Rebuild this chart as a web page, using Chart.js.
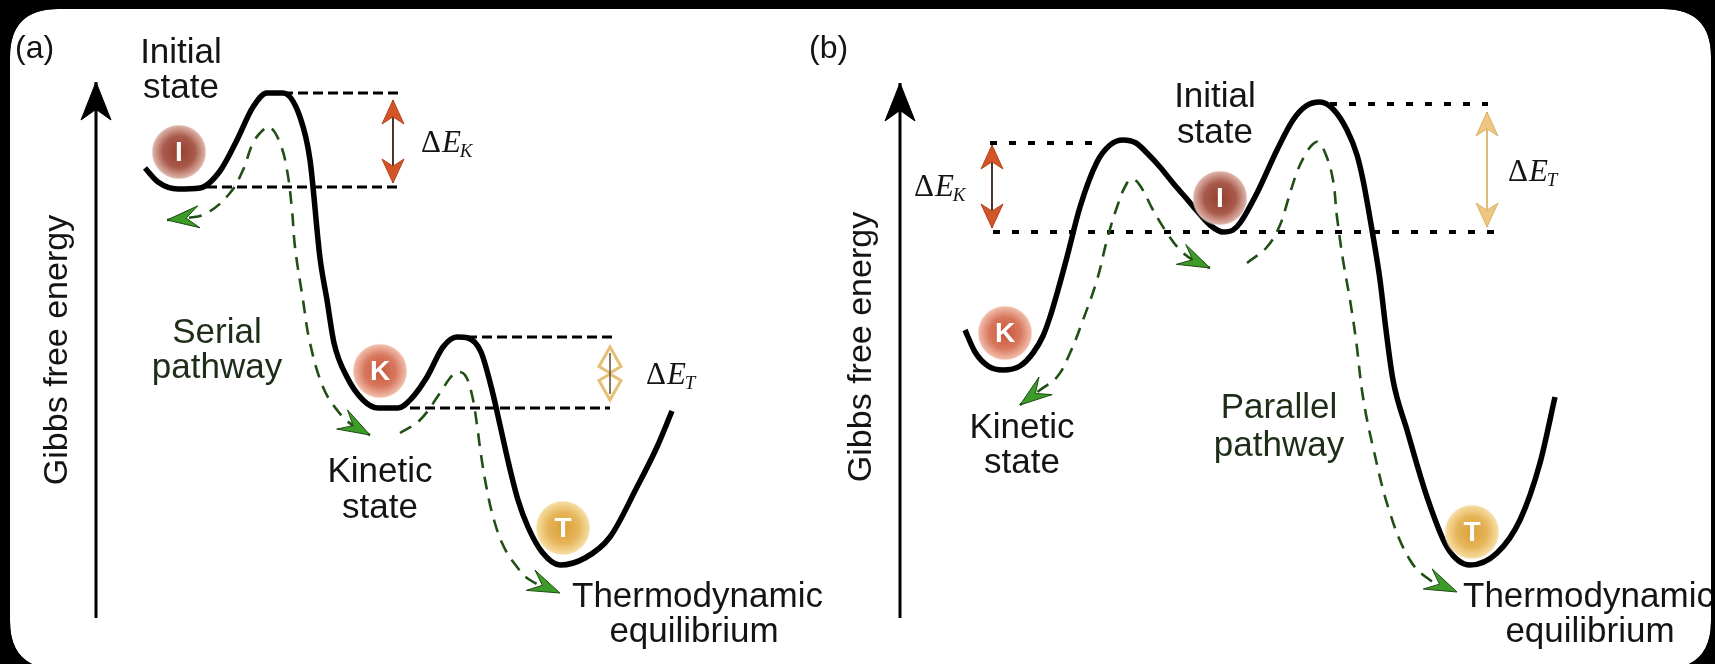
<!DOCTYPE html>
<html>
<head>
	<meta charset="UTF-8">
	<title>Serial and parallel pathways - Gibbs free energy</title>
	<script src="https://cdn.jsdelivr.net/npm/chart.js@4.4.0/dist/chart.umd.min.js"></script>
	<style>
		html, body { margin: 0; padding: 0; background: #000; }
		#landscape { width: 1715px; height: 664px; }
	</style>
</head>
<body>
<div id="landscape"><canvas id="chart_landscape" width="1715" height="664"></canvas></div>
<script>
	// x = reaction coordinate, y = free energy (picture units, grows downwards)

	// (a) serial pathway
	var serialLandscape = [[145,168],[158,182],[178,189],[200,188],[220,171],[237,140],[253,107],[267,93],[283,93],
		[300,117],[310,160],[320,258],[327,300],[334,343],[347,377],[363,400],[378,408],[398,408],[411,399],
		[427,377],[443,347],[457,337],[468,338],[481,352],[492,390],[500,425],[509,465],[518,500],[528,527],
		[542,552],[560,565],[585,558],[610,537],[637,487],[657,447],[672,411]];
	var serialPathIK = [[167,220],[187,218],[207,213],[230,193],[243,170],[253,143],[263,130],[270,127],[280,143],
		[287,170],[292,210],[295,247],[303,300],[310,343],[323,387],[337,410],[352,425],[370,435]];
	var serialPathKT = [[400,433],[420,420],[440,393],[450,378],[457,372],[465,375],[472,395],[477,425],[481,455],
		[487,490],[494,520],[503,545],[514,563],[530,580],[560,593]];
	var serialLevels = [[[283,93],[400,93]], [[207,187],[397,187]], [[467,337],[615,337]], [[410,408],[610,408]]];
	var serialGapK = [[393,100],[393,183]];
	var serialGapT = [[610,347],[610,400]];
	var serialAxis = [[96,618],[96,82]];

	// (b) parallel pathway
	var parallelLandscape = [[965,330],[975,352],[988,366],[1003,370],[1020,366],[1033,353],[1043,336],[1050,317],
		[1058,290],[1067,257],[1080,207],[1097,162],[1110,145],[1123,140],[1136,143],[1147,153],[1160,167],
		[1173,183],[1186,198],[1197,211],[1210,225],[1223,232],[1233,230],[1240,223],[1257,193],[1277,150],
		[1293,120],[1306,106],[1320,102],[1333,109],[1347,130],[1357,155],[1363,180],[1372,230],[1380,280],
		[1386,330],[1393,380],[1407,430],[1427,497],[1447,547],[1470,565],[1497,553],[1520,520],[1540,463],[1555,397]];
	var parallelPathIK = [[1020,405],[1040,390],[1057,377],[1070,353],[1083,320],[1097,280],[1107,240],[1117,207],
		[1127,183],[1133,179],[1141,187],[1153,210],[1167,233],[1180,250],[1193,260],[1210,268]];
	var parallelPathIT = [[1247,263],[1267,247],[1280,225],[1288,200],[1297,172],[1305,155],[1312,145],[1318,142],
		[1326,155],[1333,180],[1337,217],[1343,260],[1350,300],[1356,340],[1363,397],[1373,447],[1390,513],
		[1410,560],[1430,580],[1457,592]];
	var parallelLevels = [[[990,143],[1103,143]], [[993,232],[1495,232]], [[1330,104],[1488,104]]];
	var parallelGapK = [[992,145],[992,228]];
	var parallelGapT = [[1487,112],[1487,227]];
	var parallelAxis = [[900,618],[900,83]];

	// states sitting in the wells
	var stateNames = ['I', 'K', 'T', 'K', 'I', 'T'];
	var statePositions = [[179,152],[380,371],[563,528],[1005,333],[1220,198],[1472,532]];

	// texts
	var captions = [
		{ t: '(a)', x: 15, y: 58, align: 'left' },
		{ t: '(b)', x: 809, y: 58, align: 'left' },
		{ t: 'Initial', x: 181, y: 63 },
		{ t: 'state', x: 181, y: 98 },
		{ t: 'Serial', x: 217, y: 343, green: true },
		{ t: 'pathway', x: 217, y: 378, green: true },
		{ t: 'Kinetic', x: 380, y: 482 },
		{ t: 'state', x: 380, y: 518 },
		{ t: 'Thermodynamic', x: 572, y: 607, align: 'left' },
		{ t: 'equilibrium', x: 694, y: 642 },
		{ t: 'Initial', x: 1215, y: 107 },
		{ t: 'state', x: 1215, y: 143 },
		{ t: 'Kinetic', x: 1022, y: 438 },
		{ t: 'state', x: 1022, y: 473 },
		{ t: 'Parallel', x: 1279, y: 418, green: true },
		{ t: 'pathway', x: 1279, y: 456, green: true },
		{ t: 'Thermodynamic', x: 1463, y: 607, align: 'left' },
		{ t: 'equilibrium', x: 1590, y: 642 },
		{ t: 'Gibbs free energy', x: 67, y: 350, rotate: true },
		{ t: 'Gibbs free energy', x: 871, y: 347, rotate: true }
	];
	var gapLabels = [
		{ sub: 'K', x: 421, y: 152 },
		{ sub: 'T', x: 646, y: 384 },
		{ sub: 'K', x: 914, y: 196 },
		{ sub: 'T', x: 1508, y: 181 }
	];

	var ballColors = {
		I: ['#94412f', '#a95a4b', '#dcb1a7'],
		K: ['#c9583c', '#d8775e', '#f0bba8'],
		T: ['#daa03a', '#e6b65a', '#f6dca2']
	};

	function pts(a) {
		return a.map(function (p) { return { x: p[0], y: p[1] }; });
	}

	// shaded ball images used as point styles
	function ballImage(col) {
		var c = document.createElement('canvas');
		c.width = 58; c.height = 58;
		var g2 = c.getContext('2d');
		var g = g2.createRadialGradient(29, 29, 1, 29, 29, 28);
		g.addColorStop(0, col[0]);
		g.addColorStop(0.55, col[1]);
		g.addColorStop(0.93, col[2]);
		g.addColorStop(1, 'rgba(255,255,255,0)');
		g2.fillStyle = g;
		g2.beginPath();
		g2.arc(29, 29, 28.5, 0, Math.PI * 2);
		g2.fill();
		return c;
	}
	var ballImages = {};
	Object.keys(ballColors).forEach(function (k) { ballImages[k] = ballImage(ballColors[k]); });

	var datasets = [];

	function landscape(a) {
		datasets.push({ data: pts(a), showLine: true, pointRadius: 0, borderColor: '#000', borderWidth: 5.5,
			cubicInterpolationMode: 'monotone', order: 2 });
	}
	function pathway(a, heads) {
		datasets.push({ data: pts(a), showLine: true, pointRadius: 0, borderColor: '#224f16', borderWidth: 2.6,
			borderDash: [13, 9], tension: 0.4, order: 3, heads: heads,
			head: { fill: '#3c9c27', stroke: '#1e4a12', len: 32, half: 11, notch: 0.6 } });
	}
	function level(a, dash, width) {
		datasets.push({ data: pts(a), showLine: true, pointRadius: 0, borderColor: '#000', borderWidth: width,
			borderDash: dash, tension: 0, order: 4 });
	}
	function gap(a, shaft, head) {
		datasets.push({ data: pts(a), showLine: true, pointRadius: 0, borderColor: shaft, borderWidth: 1.8,
			tension: 0, order: 1, heads: 'both', head: head });
	}

	landscape(serialLandscape);
	landscape(parallelLandscape);
	pathway(serialPathIK, 'both');
	pathway(serialPathKT, 'end');
	pathway(parallelPathIK, 'both');
	pathway(parallelPathIT, 'end');
	serialLevels.forEach(function (l) { level(l, [10, 5], 3); });
	parallelLevels.forEach(function (l) { level(l, [7, 12], 4); });

	var redHead = { fill: '#d2552a', stroke: '#b8441c', len: 24, half: 11, notch: 0.7 };
	var goldHead = { fill: '#ecc882', stroke: '#dcb064', len: 24, half: 11, notch: 0.7 };
	var goldDiamond = { fill: '#ffffff', stroke: '#e4bf74', len: 26, half: 11, diamond: true };
	gap(serialGapK, '#3a2010', redHead);
	gap(serialGapT, '#6a5a40', goldDiamond);
	gap(parallelGapK, '#3a2010', redHead);
	gap(parallelGapT, '#dcb36a', goldHead);

	[serialAxis, parallelAxis].forEach(function (a) {
		datasets.push({ data: pts(a), showLine: true, pointRadius: 0, borderColor: '#000', borderWidth: 3,
			tension: 0, order: 4, heads: 'end', head: { fill: '#000', stroke: '#000', len: 38, half: 15, notch: 0.72 } });
	});

	datasets.push({
		data: pts(statePositions), showLine: false, order: 0, pointRadius: 28, pointHoverRadius: 28,
		pointBorderWidth: 0,
		pointStyle: stateNames.map(function (n) { return ballImages[n]; })
	});

	function roundedPath(ctx, x, y, w, h, r) {
		ctx.moveTo(x + r, y);
		ctx.lineTo(x + w - r, y);
		ctx.quadraticCurveTo(x + w, y, x + w, y + r);
		ctx.lineTo(x + w, y + h - r);
		ctx.quadraticCurveTo(x + w, y + h, x + w - r, y + h);
		ctx.lineTo(x + r, y + h);
		ctx.quadraticCurveTo(x, y + h, x, y + h - r);
		ctx.lineTo(x, y + r);
		ctx.quadraticCurveTo(x, y, x + r, y);
		ctx.closePath();
	}

	function drawHead(ctx, tip, from, h) {
		var a = Math.atan2(tip.y - from.y, tip.x - from.x);
		var dx = Math.cos(a), dy = Math.sin(a), nx = -dy, ny = dx;
		var bx = tip.x - dx * h.len, by = tip.y - dy * h.len;
		ctx.beginPath();
		ctx.moveTo(tip.x, tip.y);
		if (h.diamond) {
			// long kite, the two heads meet in the middle of the gap
			var sx = tip.x - dx * h.len * 0.75, sy = tip.y - dy * h.len * 0.75;
			ctx.lineTo(sx + nx * h.half, sy + ny * h.half);
			ctx.lineTo(bx, by);
			ctx.lineTo(sx - nx * h.half, sy - ny * h.half);
		} else {
			ctx.lineTo(bx + nx * h.half, by + ny * h.half);
			ctx.lineTo(tip.x - dx * h.len * h.notch, tip.y - dy * h.len * h.notch);
			ctx.lineTo(bx - nx * h.half, by - ny * h.half);
		}
		ctx.closePath();
		ctx.fillStyle = h.fill;
		ctx.fill();
		ctx.lineWidth = h.diamond ? 3 : 1;
		ctx.strokeStyle = h.stroke;
		ctx.stroke();
	}

	var figurePlugin = {
		id: 'figure',
		beforeDraw: function (chart) {
			var ctx = chart.ctx;
			ctx.save();
			ctx.fillStyle = '#000';
			ctx.fillRect(0, 0, chart.width, chart.height);
			ctx.beginPath();
			roundedPath(ctx, 10, 9, 1701, 660, 48);
			ctx.fillStyle = '#fff';
			ctx.fill();
			ctx.restore();
		},
		afterDatasetsDraw: function (chart) {
			var ctx = chart.ctx, sx = chart.scales.x, sy = chart.scales.y;
			ctx.save();
			ctx.setLineDash([]);
			chart.data.datasets.forEach(function (ds, i) {
				if (!ds.heads) return;
				var p = chart.getDatasetMeta(i).data;
				var n = p.length;
				drawHead(ctx, p[n - 1], p[n - 2], ds.head);
				if (ds.heads === 'both') drawHead(ctx, p[0], p[1], ds.head);
				if (ds.head.diamond) {
					ctx.beginPath();
					ctx.moveTo(p[0].x, p[0].y + 6);
					ctx.lineTo(p[n - 1].x, p[n - 1].y - 6);
					ctx.lineWidth = 1.5;
					ctx.strokeStyle = '#5a4a30';
					ctx.stroke();
				}
			});

			// letters on the balls
			ctx.fillStyle = '#fff';
			ctx.font = '600 28px "Liberation Sans", Arial, sans-serif';
			ctx.textAlign = 'center';
			ctx.textBaseline = 'middle';
			statePositions.forEach(function (p, i) {
				ctx.fillText(stateNames[i], sx.getPixelForValue(p[0]), sy.getPixelForValue(p[1]) + 1);
			});

			// captions
			ctx.textBaseline = 'alphabetic';
			captions.forEach(function (c) {
				var x = sx.getPixelForValue(c.x), y = sy.getPixelForValue(c.y);
				ctx.fillStyle = c.green ? '#1d2d17' : '#141414';
				ctx.font = (c.t.charAt(0) === '(' ? '32px' : '35px') + ' "Liberation Sans", Arial, sans-serif';
				ctx.textAlign = c.align || 'center';
				if (c.rotate) {
					ctx.save();
					ctx.translate(x, y);
					ctx.rotate(-Math.PI / 2);
					ctx.font = '34px "Liberation Sans", Arial, sans-serif';
					ctx.textAlign = 'center';
					ctx.fillText(c.t, 0, 0);
					ctx.restore();
				} else {
					ctx.fillText(c.t, x, y);
				}
			});

			// Delta E labels
			ctx.fillStyle = '#141414';
			ctx.textAlign = 'left';
			gapLabels.forEach(function (g) {
				var x = sx.getPixelForValue(g.x), y = sy.getPixelForValue(g.y);
				ctx.font = '31px "Liberation Serif", "DejaVu Serif", serif';
				ctx.fillText('\u0394', x, y);
				x += ctx.measureText('\u0394').width + 1;
				ctx.font = 'italic 31px "Liberation Serif", "DejaVu Serif", serif';
				ctx.fillText('E', x, y);
				x += ctx.measureText('E').width - 1;
				ctx.font = 'italic 19px "Liberation Serif", "DejaVu Serif", serif';
				ctx.fillText(g.sub, x, y + 5);
			});
			ctx.restore();
		},
		afterDraw: function (chart) {
			var ctx = chart.ctx;
			ctx.save();
			ctx.beginPath();
			ctx.rect(0, 0, chart.width, chart.height);
			roundedPath(ctx, 10, 9, 1701, 660, 48);
			ctx.fillStyle = '#000';
			ctx.fill('evenodd');
			ctx.restore();
		}
	};

	var ctx = document.getElementById('chart_landscape').getContext('2d');
	var landscapeChart = new Chart(ctx, {
		type: 'scatter',
		data: { datasets: datasets },
		options: {
			responsive: false,
			animation: false,
			devicePixelRatio: 1,
			events: [],
			layout: { padding: 0, autoPadding: false },
			plugins: {
				legend: { display: false },
				tooltip: { enabled: false }
			},
			scales: {
				x: { type: 'linear', min: 0, max: 1715, display: false },
				y: { type: 'linear', min: 0, max: 664, reverse: true, display: false }
			}
		},
		plugins: [figurePlugin]
	});
</script>
</body>
</html>
